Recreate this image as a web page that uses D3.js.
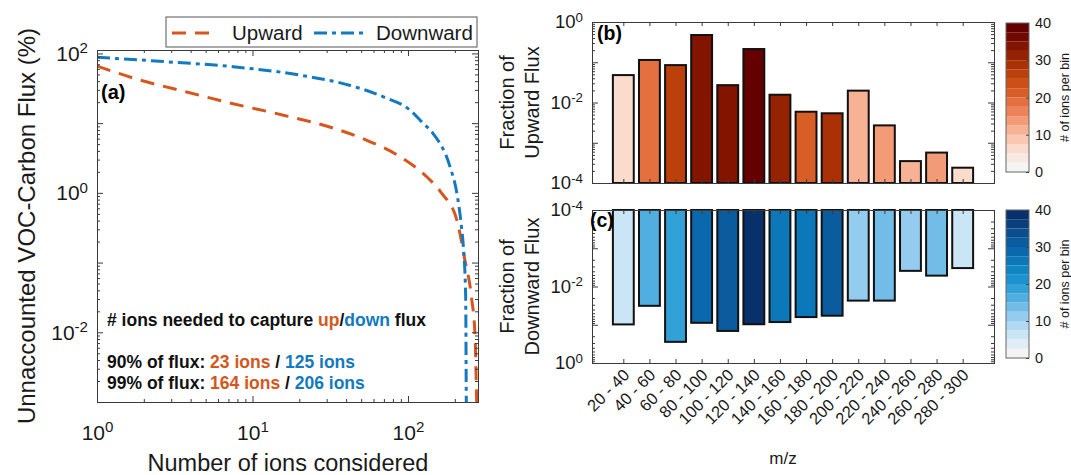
<!DOCTYPE html>
<html>
<head>
<meta charset="utf-8">
<script src="https://cdn.jsdelivr.net/npm/d3@7"></script>
<style>
  body { margin: 0; background: #fff; }
  svg { font-family: "Liberation Sans", Arial, sans-serif; }
</style>
</head>
<body>
<svg id="chart" width="1071" height="475"></svg>
<script>
// (a) unaccounted flux vs number of ions
const nUp = [1, 1.89, 3.77, 7.5, 15.8, 33, 54, 89, 132, 164, 206, 232, 256, 270, 276, 282];
const upPct = [66, 41.5, 28, 19, 13, 8.5, 5.7, 3.3, 1.7, 1.0, 0.41, 0.11, 0.032, 0.0087, 0.0012, 0.0001];
const nDown = [1, 2.8, 7.5, 20, 42, 69, 103, 125, 145, 186, 206, 221, 227, 235, 237, 240];
const downPct = [88, 76, 64.5, 49, 35, 24, 15.4, 10, 7.1, 2.4, 1.0, 0.32, 0.17, 0.032, 0.0012, 0.0001];

// (b)/(c) flux fraction per m/z bin
const bins = ["20 - 40", "40 - 60", "60 - 80", "80 - 100", "100 - 120", "120 - 140", "140 - 160",
  "160 - 180", "180 - 200", "200 - 220", "220 - 240", "240 - 260", "260 - 280", "280 - 300"];
const upFrac = [0.048, 0.114, 0.085, 0.475, 0.027, 0.213, 0.0156, 0.0059, 0.0054, 0.0197, 0.0027, 0.00035, 0.00057, 0.00024];
const upCount = [5, 18, 26, 34, 33, 39, 31, 21, 29, 11, 13, 11, 13, 5];
const downFrac = [0.098, 0.032, 0.28, 0.089, 0.145, 0.097, 0.085, 0.063, 0.058, 0.0234, 0.0234, 0.0039, 0.0052, 0.0033];
const downCount = [6, 15, 19, 28, 30, 39, 27, 26, 31, 11, 14, 11, 14, 6];
const cbTicks = [0, 10, 20, 30, 40];

const orange = "#d6561c", blue = "#1379c0", axisCol = "#3a3a3a";
const svg = d3.select("#chart");

// helpers
function decadeMinors(lo, hi) {
  const out = [];
  for (let e = Math.floor(Math.log10(lo)); e <= Math.ceil(Math.log10(hi)); e++)
    for (let m = 2; m <= 9; m++) { const v = m * Math.pow(10, e); if (v > lo && v < hi) out.push(v); }
  return out;
}
function decades(lo, hi) {
  const out = [];
  for (let e = Math.ceil(Math.log10(lo) - 1e-9); e <= Math.floor(Math.log10(hi) + 1e-9); e++) out.push(Math.pow(10, e));
  return out;
}
function supLabels(sel, shown) {
  sel.selectAll(".tick text").each(function (d) {
    const t = d3.select(this);
    const e = Math.round(Math.log10(d));
    if (shown && !shown.includes(e)) { t.text(""); return; }
    t.text("10");
    t.append("tspan").attr("dy", "-0.5em").attr("font-size", "0.72em").text(e);
  });
}
function styleAxis(g) {
  g.select(".domain").attr("stroke", axisCol);
  g.selectAll(".tick line").attr("stroke", axisCol);
  g.selectAll(".tick text").attr("fill", "#1a1a1a");
}
// inward ticks on left and right
function logBoxY(g, y, x0, x1, shown, fs, pad) {
  const [lo, hi] = y.domain();
  const left = g.append("g").attr("transform", `translate(${x0},0)`)
    .call(d3.axisLeft(y).tickValues(decades(lo, hi)).tickSize(-6).tickPadding(pad));
  left.selectAll(".tick text").attr("font-size", fs);
  supLabels(left, shown);
  styleAxis(left);
  styleAxis(g.append("g").attr("transform", `translate(${x0},0)`)
    .call(d3.axisLeft(y).tickValues(decadeMinors(lo, hi)).tickSize(-3).tickFormat("")));
  styleAxis(g.append("g").attr("transform", `translate(${x1},0)`)
    .call(d3.axisRight(y).tickValues(decades(lo, hi)).tickSize(-6).tickFormat("")));
  styleAxis(g.append("g").attr("transform", `translate(${x1},0)`)
    .call(d3.axisRight(y).tickValues(decadeMinors(lo, hi)).tickSize(-3).tickFormat("")));
}

// ---------------- panel (a) ----------------
const A = { l: 97, r: 478, t: 50, b: 402 };
const xA = d3.scaleLog().domain([1, 282]).range([A.l, A.r]);
const yA = d3.scaleLog().domain([1e-3, 112]).range([A.b, A.t]);

const gA = svg.append("g");
gA.append("clipPath").attr("id", "clipA").append("rect")
  .attr("x", A.l).attr("y", A.t).attr("width", A.r - A.l).attr("height", A.b - A.t);

const line = d3.line().x(d => xA(d[0])).y(d => yA(d[1])).curve(d3.curveMonotoneX);
gA.append("path").datum(nUp.map((n, i) => [n, upPct[i]]))
  .attr("clip-path", "url(#clipA)")
  .attr("d", line).attr("fill", "none").attr("stroke", orange)
  .attr("stroke-width", 3).attr("stroke-dasharray", "14,9");
gA.append("path").datum(nDown.map((n, i) => [n, downPct[i]]))
  .attr("clip-path", "url(#clipA)")
  .attr("d", line).attr("fill", "none").attr("stroke", blue)
  .attr("stroke-width", 3).attr("stroke-dasharray", "13,5,4,5");

// x axes (bottom labelled, top plain)
const xb = gA.append("g").attr("transform", `translate(0,${A.b})`)
  .call(d3.axisBottom(xA).tickValues(decades(1, 282)).tickSize(-6).tickPadding(23));
xb.selectAll(".tick text").attr("font-size", 21);
supLabels(xb);
styleAxis(xb);
styleAxis(gA.append("g").attr("transform", `translate(0,${A.b})`)
  .call(d3.axisBottom(xA).tickValues(decadeMinors(1, 282)).tickSize(-3).tickFormat("")));
styleAxis(gA.append("g").attr("transform", `translate(0,${A.t})`)
  .call(d3.axisTop(xA).tickValues(decades(1, 282)).tickSize(-6).tickFormat("")));
styleAxis(gA.append("g").attr("transform", `translate(0,${A.t})`)
  .call(d3.axisTop(xA).tickValues(decadeMinors(1, 282)).tickSize(-3).tickFormat("")));
logBoxY(gA, yA, A.l, A.r, [2, 0, -2], 21, 9);

gA.append("text").attr("x", A.l + 4).attr("y", 99).attr("font-size", 20).attr("font-weight", "bold").text("(a)");

gA.append("text").attr("transform", `translate(35,${(A.t + A.b) / 2}) rotate(-90)`)
  .attr("text-anchor", "middle").attr("font-size", 24).attr("fill", "#1a1a1a")
  .text("Unnaccounted VOC-Carbon Flux (%)");
gA.append("text").attr("x", 288).attr("y", 471).attr("text-anchor", "middle")
  .attr("font-size", 23.5).attr("fill", "#1a1a1a").text("Number of ions considered");

// annotation
const note = gA.append("g").attr("font-size", 17.5).attr("font-weight", "bold").attr("fill", "#111");
const t1 = note.append("text").attr("x", 107).attr("y", 326);
t1.append("tspan").text("# ions needed to capture ");
t1.append("tspan").attr("fill", orange).text("up");
t1.append("tspan").text("/");
t1.append("tspan").attr("fill", blue).text("down");
t1.append("tspan").text(" flux");
[["90% of flux: ", "23 ions", "125 ions", 368], ["99% of flux: ", "164 ions", "206 ions", 389]].forEach(r => {
  const t = note.append("text").attr("x", 107).attr("y", r[3]);
  t.append("tspan").text(r[0]);
  t.append("tspan").attr("fill", orange).text(r[1]);
  t.append("tspan").text(" / ");
  t.append("tspan").attr("fill", blue).text(r[2]);
});

// legend
const lg = gA.append("g");
lg.append("rect").attr("x", 166).attr("y", 17).attr("width", 311).attr("height", 30)
  .attr("fill", "#fff").attr("stroke", "#555").attr("stroke-width", 1);
lg.append("line").attr("x1", 172).attr("x2", 216).attr("y1", 33).attr("y2", 33)
  .attr("stroke", orange).attr("stroke-width", 3).attr("stroke-dasharray", "14,9");
lg.append("text").attr("x", 232).attr("y", 40).attr("font-size", 20.5).attr("fill", "#1a1a1a").text("Upward");
lg.append("line").attr("x1", 314).attr("x2", 368).attr("y1", 33).attr("y2", 33)
  .attr("stroke", blue).attr("stroke-width", 3).attr("stroke-dasharray", "13,5,4,5");
lg.append("text").attr("x", 376).attr("y", 40).attr("font-size", 20.5).attr("fill", "#1a1a1a").text("Downward");

// ---------------- panels (b) and (c) ----------------
const B = { l: 592, r: 994 };
const xB = d3.scaleLinear().domain([-0.2, 15.2]).range([B.l, B.r]);
const bw = (xB(1) - xB(0)) * 0.8;
const idx = bins.map((d, i) => i + 1);
const nLevels = 16;
const orangeRamp = d3.interpolateRgbBasis(["#f4f4f4", "#fde0d2", "#f9b89c", "#f08a62", "#de6530", "#c84a0e", "#a52d02", "#7e1000", "#640000"]);
const blueRamp = d3.interpolateRgbBasis(["#f4f4f4", "#cfe8f7", "#9dd0f0", "#5cb3e4", "#1e9ad4", "#0b7fc0", "#0a66aa", "#0a4d8e", "#08306b"]);
const levelOf = c => Math.min(nLevels - 1, Math.floor(c / (40 / nLevels)));

function barPanel(cfg) {
  const g = svg.append("g");
  const y = d3.scaleLog().domain([1e-4, 1]).range(cfg.up ? [cfg.b, cfg.t] : [cfg.t, cfg.b]);
  const base = y(1e-4);
  g.selectAll("rect.bar").data(cfg.vals).enter().append("rect").attr("class", "bar")
    .attr("x", (d, i) => xB(i + 1) - bw / 2).attr("width", bw)
    .attr("y", d => Math.min(base, y(d))).attr("height", d => Math.abs(y(d) - base))
    .attr("fill", (d, i) => cfg.ramp(levelOf(cfg.counts[i]) / (nLevels - 1)))
    .attr("stroke", "#111").attr("stroke-width", 2);

  // x ticks inward on top and bottom
  styleAxis(g.append("g").attr("transform", `translate(0,${cfg.b})`)
    .call(d3.axisBottom(xB).tickValues(idx).tickSize(-4).tickFormat("")));
  styleAxis(g.append("g").attr("transform", `translate(0,${cfg.t})`)
    .call(d3.axisTop(xB).tickValues(idx).tickSize(-4).tickFormat("")));
  logBoxY(g, y, B.l, B.r, [0, -2, -4], 18.5, 9);

  g.append("text").attr("x", cfg.tagX).attr("y", cfg.tagY).attr("font-size", 19.5)
    .attr("font-weight", "bold").text(cfg.tag);
  const yc = (cfg.t + cfg.b) / 2;
  [[514, "Fraction of"], [539, cfg.title]].forEach(r => {
    g.append("text").attr("transform", `translate(${r[0]},${yc}) rotate(-90)`)
      .attr("text-anchor", "middle").attr("font-size", 20).attr("fill", "#1a1a1a").text(r[1]);
  });

  // colorbar
  const cb = d3.scaleLinear().domain([0, 40]).range([cfg.cbB, cfg.cbT]);
  const cg = g.append("g");
  cg.selectAll("rect").data(d3.range(nLevels)).enter().append("rect")
    .attr("x", 1006).attr("width", 23)
    .attr("y", i => cb((i + 1) * 40 / nLevels)).attr("height", i => cb(i * 40 / nLevels) - cb((i + 1) * 40 / nLevels))
    .attr("fill", i => cfg.ramp(i / (nLevels - 1)));
  cg.append("rect").attr("x", 1006).attr("width", 23).attr("y", cfg.cbT).attr("height", cfg.cbB - cfg.cbT)
    .attr("fill", "none").attr("stroke", "#666");
  const ca = cg.append("g").attr("transform", "translate(1029,0)")
    .call(d3.axisRight(cb).tickValues(cbTicks).tickSize(-3).tickPadding(6));
  ca.select(".domain").remove();
  ca.selectAll(".tick line").attr("stroke", "#444");
  ca.selectAll(".tick text").attr("font-size", 14.5).attr("fill", "#1a1a1a");
  cg.append("text").attr("transform", `translate(1069,${(cfg.cbT + cfg.cbB) / 2}) rotate(-90)`)
    .attr("text-anchor", "middle").attr("font-size", 12.5).attr("fill", "#1a1a1a").text("# of ions per bin");
  return g;
}

barPanel({ t: 22, b: 183, up: true, vals: upFrac, counts: upCount, ramp: orangeRamp,
  tag: "(b)", tagX: 597, tagY: 40, title: "Upward Flux", cbT: 23, cbB: 172 });
const gC = barPanel({ t: 210, b: 363, up: false, vals: downFrac, counts: downCount, ramp: blueRamp,
  tag: "(c)", tagX: 590, tagY: 227, title: "Downward Flux", cbT: 210, cbB: 358 });

// rotated m/z tick labels
gC.selectAll("text.mz").data(bins).enter().append("text").attr("class", "mz")
  .attr("transform", (d, i) => `translate(${xB(i + 1) + 3},${372}) rotate(-45)`)
  .attr("text-anchor", "end").attr("dy", "0.35em").attr("font-size", 16.5).attr("fill", "#1a1a1a")
  .text(d => d);
gC.append("text").attr("x", 783).attr("y", 464).attr("text-anchor", "middle")
  .attr("font-size", 17).attr("fill", "#1a1a1a").text("m/z");
</script>
</body>
</html>
